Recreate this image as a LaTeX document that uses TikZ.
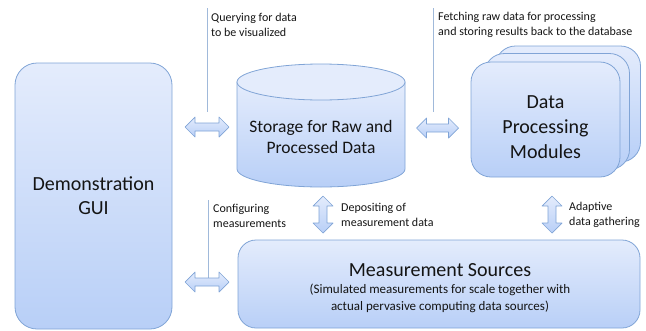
\documentclass[tikz,border=0pt]{standalone}
\usepackage{fontspec}
\setmainfont{Carlito}
\usetikzlibrary{calc}
\definecolor{boxtop}{RGB}{228,236,252}
\definecolor{boxbot}{RGB}{184,207,247}
\definecolor{boxline}{RGB}{128,164,214}
\definecolor{callout}{RGB}{160,185,218}
\definecolor{txt}{RGB}{20,20,20}
\tikzset{
  box/.style={draw=boxline, line width=0.8pt, top color=boxtop, bottom color=boxbot, rounded corners=#1, inner sep=0pt, text=txt},
  box/.default=20pt,
  arrowstyle/.style={draw=boxline, line width=0.7pt, line join=round, top color=boxtop, bottom color=boxbot},
  calloutline/.style={draw=callout, line width=0.7pt},
  lbl/.style={font=\fontsize{12}{15}\selectfont, text=txt, align=left, anchor=west, inner sep=0pt},
}
% double block arrow: #1 centre coordinate, #2 half length, #3 rotation
\newcommand\blockarrow[3]{%
  \path[arrowstyle, shift={(#1)}, rotate=#3]
    (-#2,0) -- (-#2+10,10) -- (-#2+10,4) -- (#2-10,4) -- (#2-10,10) -- (#2,0)
    -- (#2-10,-10) -- (#2-10,-4) -- (-#2+10,-4) -- (-#2+10,-10) -- cycle;}
\begin{document}
\begin{tikzpicture}[x=1pt,y=1pt]
\useasboundingbox (0,0) rectangle (646,-330);

% Demonstration GUI
\node[box=22pt, minimum width=157pt, minimum height=266pt, font=\fontsize{20}{24}\selectfont, align=center] (gui) at (93.5,-196) {Demonstration\\GUI};

% Storage cylinder
\path[draw=boxline, line width=0.8pt, top color=boxtop, bottom color=boxbot]
  (237,-82) -- (237,-169) arc[start angle=180, end angle=360, x radius=84, y radius=18] -- (405,-82) -- cycle;
\path[draw=boxline, line width=0.8pt, fill=boxtop] (321,-82) ellipse[x radius=84, y radius=18];
\node[font=\fontsize{17.5}{21}\selectfont, align=center, text=txt, inner sep=0pt] (storage) at (321,-137) {Storage for Raw and\\Processed Data};

% Data Processing Modules stack
\node[box, minimum width=145pt, minimum height=116pt] (dpm3) at (568,-104) {};
\node[box, minimum width=145pt, minimum height=116pt] (dpm2) at (557,-111.5) {};
\node[box, minimum width=149pt, minimum height=115pt] (dpm) at (545.5,-119.5) {};
\node[font=\fontsize{20}{25}\selectfont, align=center, text=txt, inner sep=0pt] (dpmtext) at (545.5,-127.5) {Data\\Processing\\Modules};

% Measurement Sources
\node[box=18pt, minimum width=402pt, minimum height=88pt] (ms) at (439,-284) {};
\node[font=\fontsize{20}{24}\selectfont, text=txt, inner sep=0pt] (mstitle) at (440,-270) {Measurement Sources};
\node[font=\fontsize{13}{16.5}\selectfont, align=center, text=txt, inner sep=0pt] (mssub) at (440,-298.5) {(Simulated measurements for scale together with\\actual pervasive computing data sources)};

% arrow centres
\coordinate (a1) at (207,-127);
\coordinate (a2) at (437.5,-128);
\coordinate (a3) at (207,-282);
\coordinate (a4) at (323,-214.5);
\coordinate (a5) at (552,-214.5);

% callout lines
\coordinate (c1t) at (207,-8);
\coordinate (c1b) at (207,-112);
\coordinate (c2t) at (433,-8);
\coordinate (c2b) at (433,-112);
\coordinate (c3t) at (208,-200);
\draw[calloutline] (c1t) -- (c1b);
\draw[calloutline] (c2t) -- (c2b);
\draw[calloutline] (c3t) -- ($(a3)+(1,4)$);

% arrows
\blockarrow{a1}{22}{0}
\blockarrow{a2}{21}{0}
\blockarrow{a3}{22}{0}
\blockarrow{a4}{18.5}{90}
\blockarrow{a5}{18.5}{90}

% labels
\node[lbl] (l1) at (211,-24.5) {Querying for data\\to be visualized};
\node[lbl] (l2) at (438,-24.5) {Fetching raw data for processing\\and storing results back to the database};
\node[lbl] (l3) at (213,-215.5) {Configuring\\measurements};
\node[lbl] (l4) at (341,-214.5) {Depositing of\\measurement data};
\node[lbl] (l5) at (569,-214.5) {Adaptive\\data gathering};
\end{tikzpicture}
\end{document}
